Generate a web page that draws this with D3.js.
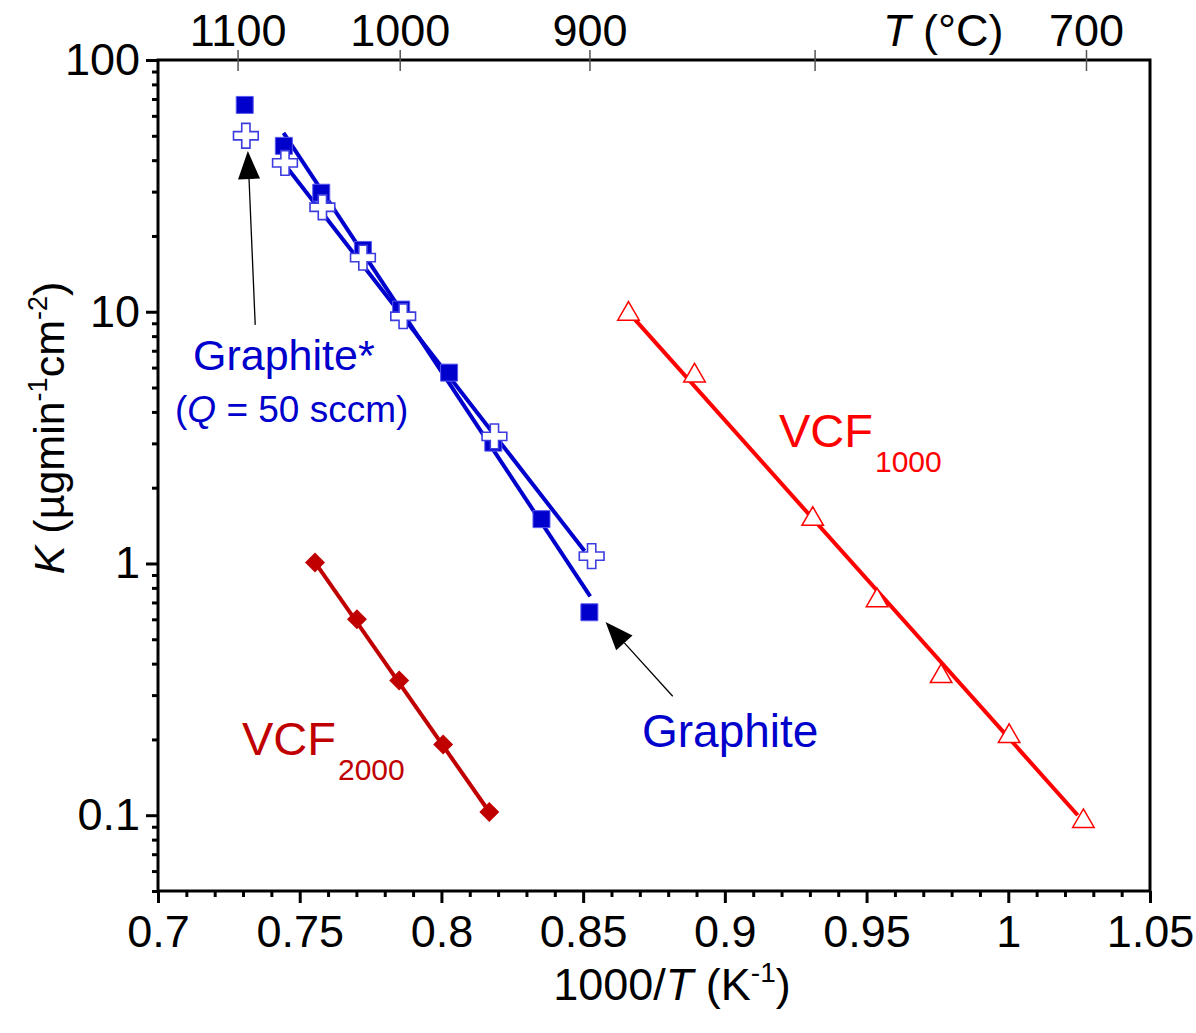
<!DOCTYPE html>
<html>
<head>
<meta charset="utf-8">
<script src="https://cdn.jsdelivr.net/npm/d3@7"></script>
<style>
  body { margin: 0; background: #fff; }
  svg { font-family: "Liberation Sans", Arial, sans-serif; }
</style>
</head>
<body>
<div id="wrapper"></div>
<script>
// data: x = 1000/T (K^-1), y = K (ug min^-1 cm^-2)
const graphiteX = [0.7306, 0.7444, 0.7576, 0.7723, 0.7858, 0.8027, 0.8183, 0.8353, 0.8522];
const graphiteY = [66.3, 45.6, 29.7, 17.6, 10.2, 5.73, 3.02, 1.50, 0.64];
const graphiteStarX = [0.7310, 0.7448, 0.7580, 0.7723, 0.7865, 0.8187, 0.8530];
const graphiteStarY = [50, 39, 26, 16.4, 9.6, 3.2, 1.07];
const vcf1000X = [0.8660, 0.8893, 0.9310, 0.9537, 0.9763, 1.0003, 1.0265];
const vcf1000Y = [9.8, 5.57, 1.50, 0.713, 0.356, 0.206, 0.0946];
const vcf2000X = [0.7554, 0.7702, 0.7851, 0.8006, 0.8169];
const vcf2000Y = [1.01, 0.60, 0.343, 0.191, 0.103];

// fitted lines (end points)
const graphiteFit = [[0.7443, 51.3], [0.8525, 0.74]];
const graphiteStarFit = [[0.7443, 39], [0.8505, 1.12]];
const vcf1000Fit = [[0.8665, 9.8], [1.0245, 0.1]];
const vcf2000Fit = [[0.7554, 1.01], [0.8169, 0.103]];

const xTicks = [0.7, 0.75, 0.8, 0.85, 0.9, 0.95, 1, 1.05];
const xTickLabels = ["0.7", "0.75", "0.8", "0.85", "0.9", "0.95", "1", "1.05"];
const yTicks = [0.1, 1, 10, 100];
const yTickLabels = ["0.1", "1", "10", "100"];
const tempTicks = [1100, 1000, 900, 800, 700];
const tempLabels = ["1100", "1000", "900", "", "700"];

let dimension = {
    width: 1196,
    height: 1033,
    margin: { top: 60, left: 158, bottom: 142, right: 46 }
};
dimension.boundedWidth = dimension.width - dimension.margin.left - dimension.margin.right;
dimension.boundedHeight = dimension.height - dimension.margin.top - dimension.margin.bottom;

const blue = "#0000cc";
const red = "#ff0000";
const darkRed = "#c00000";

function buildPlot() {
    const svg = d3.select("#wrapper").append("svg")
        .attr("width", dimension.width)
        .attr("height", dimension.height);

    const bounds = svg.append("g")
        .attr("transform", `translate(${dimension.margin.left},${dimension.margin.top})`);

    const xScale = d3.scaleLinear()
        .domain([0.7, 1.05])
        .range([0, dimension.boundedWidth]);
    const yScale = d3.scaleLog()
        .domain([0.05, 100])
        .range([dimension.boundedHeight, 0]);

    // bottom axis: major + minor
    const xMinor = d3.range(0, 36).map(i => 0.7 + i * 0.01).filter(v => Math.round(v * 100) % 5 !== 0);
    bounds.append("g")
        .attr("class", "axis")
        .attr("transform", `translate(0,${dimension.boundedHeight})`)
        .call(d3.axisBottom(xScale).tickValues(xMinor).tickSize(6).tickFormat(""));
    bounds.append("g")
        .attr("class", "axis major")
        .attr("transform", `translate(0,${dimension.boundedHeight})`)
        .call(d3.axisBottom(xScale).tickValues(xTicks).tickSize(12).tickPadding(12)
            .tickFormat((d, i) => xTickLabels[i]));

    // left axis: log major + minor
    const yMinor = [];
    [0.01, 0.1, 1, 10].forEach(dec => {
        for (let k = 2; k <= 9; k++) {
            const v = dec * k;
            if (v >= 0.05 && v < 100) yMinor.push(v);
        }
    });
    bounds.append("g")
        .attr("class", "axis")
        .call(d3.axisLeft(yScale).tickValues(yMinor).tickSize(6).tickFormat(""));
    bounds.append("g")
        .attr("class", "axis major")
        .call(d3.axisLeft(yScale).tickValues(yTicks).tickSize(12).tickPadding(6)
            .tickFormat((d, i) => yTickLabels[i]));

    bounds.selectAll(".axis path").attr("stroke-width", 3).attr("stroke", "#000");
    bounds.selectAll(".axis line").attr("stroke-width", 3).attr("stroke", "#000");
    bounds.selectAll(".axis text")
        .attr("font-size", 45)
        .attr("fill", "#000")
        .attr("font-family", "Liberation Sans, Arial, sans-serif");
    bounds.selectAll(".axis path.domain").attr("d", null);

    // frame
    bounds.append("rect")
        .attr("x", 0).attr("y", 0)
        .attr("width", dimension.boundedWidth)
        .attr("height", dimension.boundedHeight)
        .attr("fill", "none")
        .attr("stroke", "#000")
        .attr("stroke-width", 3);

    // top temperature axis
    const tX = t => xScale(1000 / (t + 273.15));
    bounds.selectAll(".ttick")
        .data(tempTicks)
        .enter()
        .append("line")
        .attr("x1", d => tX(d)).attr("x2", d => tX(d))
        .attr("y1", -10).attr("y2", 11)
        .attr("stroke", "#555")
        .attr("stroke-width", 1.5);
    bounds.selectAll(".tlabel")
        .data(tempTicks)
        .enter()
        .append("text")
        .attr("x", d => tX(d))
        .attr("y", -14)
        .attr("text-anchor", "middle")
        .attr("font-size", 45)
        .text((d, i) => tempLabels[i]);
    const tLab = bounds.append("text")
        .attr("x", 725).attr("y", -14)
        .attr("font-size", 45);
    tLab.append("tspan").attr("font-style", "italic").text("T");
    tLab.append("tspan").text(" (°C)");

    // fit lines
    const line = d3.line()
        .x(d => xScale(d[0]))
        .y(d => yScale(d[1]));
    [[graphiteFit, blue], [graphiteStarFit, blue], [vcf1000Fit, red], [vcf2000Fit, darkRed]]
        .forEach(([pts, col]) => {
            bounds.append("path")
                .attr("d", line(pts))
                .attr("fill", "none")
                .attr("stroke", col)
                .attr("stroke-width", 4);
        });

    // markers
    const zip = (xs, ys) => xs.map((x, i) => ({ x: x, y: ys[i] }));

    bounds.selectAll(".sq")
        .data(zip(graphiteX, graphiteY))
        .enter()
        .append("path")
        .attr("d", d3.symbol().type(d3.symbolSquare).size(289))
        .attr("fill", blue)
        .attr("stroke", "#5a5af0")
        .attr("stroke-width", 1)
        .attr("transform", d => `translate(${xScale(d.x)},${yScale(d.y)})`);

    bounds.selectAll(".cross")
        .data(zip(graphiteStarX, graphiteStarY))
        .enter()
        .append("path")
        .attr("d", d3.symbol().type(d3.symbolCross).size(340))
        .attr("fill", "#fff")
        .attr("stroke", "#3c3ce0")
        .attr("stroke-width", 1.6)
        .attr("transform", d => `translate(${xScale(d.x)},${yScale(d.y)})`);

    bounds.selectAll(".tri")
        .data(zip(vcf1000X, vcf1000Y))
        .enter()
        .append("path")
        .attr("d", d3.symbol().type(d3.symbolTriangle).size(200))
        .attr("fill", "#fff")
        .attr("stroke", red)
        .attr("stroke-width", 1.5)
        .attr("transform", d => `translate(${xScale(d.x)},${yScale(d.y)})`);

    bounds.selectAll(".dia")
        .data(zip(vcf2000X, vcf2000Y))
        .enter()
        .append("path")
        .attr("d", d3.symbol().type(d3.symbolSquare).size(200))
        .attr("fill", darkRed)
        .attr("transform", d => `translate(${xScale(d.x)},${yScale(d.y)}) rotate(45)`);

    // arrows (data coordinates: tail -> tip)
    const arrows = [
        [[0.7343, 8.87], [0.7317, 43.5]],
        [[0.8816, 0.297], [0.8579, 0.585]]
    ];
    arrows.forEach(([tail, tip]) => {
        const x0 = xScale(tail[0]), y0 = yScale(tail[1]);
        const x1 = xScale(tip[0]), y1 = yScale(tip[1]);
        const ang = Math.atan2(y1 - y0, x1 - x0);
        const len = 28, half = 11;
        const bx = x1 - len * Math.cos(ang), by = y1 - len * Math.sin(ang);
        bounds.append("line")
            .attr("x1", x0).attr("y1", y0).attr("x2", bx).attr("y2", by)
            .attr("stroke", "#000").attr("stroke-width", 1.3);
        bounds.append("path")
            .attr("d", `M${x1},${y1}L${bx - half * Math.sin(ang)},${by + half * Math.cos(ang)}L${bx + half * Math.sin(ang)},${by - half * Math.cos(ang)}Z`)
            .attr("fill", "#000");
    });

    // annotations
    bounds.append("text")
        .attr("x", 35).attr("y", 310)
        .attr("font-size", 43).attr("fill", blue)
        .text("Graphite*");
    const q = bounds.append("text")
        .attr("x", 17).attr("y", 362)
        .attr("font-size", 37).attr("fill", blue);
    q.append("tspan").text("(");
    q.append("tspan").attr("font-style", "italic").text("Q");
    q.append("tspan").text(" = 50 sccm)");

    bounds.append("text")
        .attr("x", 484).attr("y", 687)
        .attr("font-size", 46).attr("fill", blue)
        .text("Graphite");

    const v1 = bounds.append("text")
        .attr("x", 621).attr("y", 387)
        .attr("font-size", 47).attr("fill", red);
    v1.append("tspan").text("VCF");
    v1.append("tspan").attr("font-size", 30).attr("dy", 25).attr("dx", 2).text("1000");

    const v2 = bounds.append("text")
        .attr("x", 84).attr("y", 695)
        .attr("font-size", 47).attr("fill", darkRed);
    v2.append("tspan").text("VCF");
    v2.append("tspan").attr("font-size", 30).attr("dy", 25).attr("dx", 2).text("2000");

    // axis titles
    const xt = svg.append("text")
        .attr("x", 672).attr("y", 1000)
        .attr("text-anchor", "middle")
        .attr("font-size", 45);
    xt.append("tspan").text("1000/");
    xt.append("tspan").attr("font-style", "italic").text("T");
    xt.append("tspan").text(" (K");
    xt.append("tspan").attr("font-size", 28).attr("dy", -18).text("-1");
    xt.append("tspan").attr("dy", 18).text(")");

    const yt = svg.append("text")
        .attr("transform", "translate(64,428) rotate(-90)")
        .attr("text-anchor", "middle")
        .attr("font-size", 43);
    yt.append("tspan").attr("font-style", "italic").text("K");
    yt.append("tspan").text(" (µgmin");
    yt.append("tspan").attr("font-size", 27).attr("dy", -17).text("-1");
    yt.append("tspan").attr("dy", 17).text("cm");
    yt.append("tspan").attr("font-size", 27).attr("dy", -17).text("-2");
    yt.append("tspan").attr("dy", 17).text(")");
}

buildPlot();
</script>
</body>
</html>
